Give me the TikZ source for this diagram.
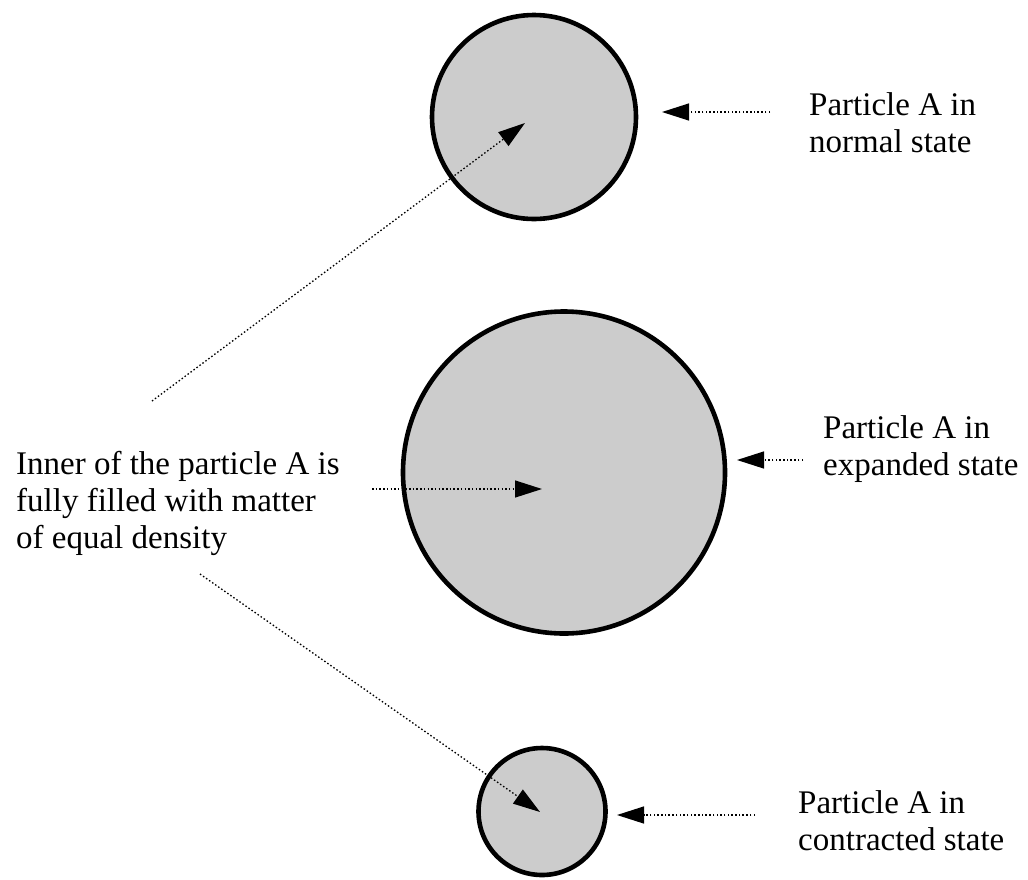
\documentclass[tikz,border=0pt]{standalone}
\usepackage{fontspec}
\setmainfont{Liberation Serif}
\usetikzlibrary{arrows.meta}
\definecolor{partgray}{HTML}{CCCCCC}
\begin{document}
\begin{tikzpicture}[x=1pt,y=-1pt,
  particle/.style={circle,draw=black,line width=4.6pt,fill=partgray,inner sep=0pt},
  lbl/.style={align=left,anchor=north west,inner sep=0pt,font=\fontsize{33}{37}\selectfont},
  pointer/.style={line width=1.3pt,dash pattern=on 1.5pt off 2.2pt,-{Triangle[length=27pt,width=17pt]}}]
\useasboundingbox (0,0) rectangle (1028,879);
% particles
\node[particle,minimum size=204pt] (normal) at (534,117) {};
\node[particle,minimum size=322pt] (expanded) at (564,472.5) {};
\node[particle,minimum size=127pt] (contracted) at (542,811.5) {};
% labels
\node[lbl] (lnormal) at (809,92.5) {Particle A in\\normal state};
\node[lbl] (lexp) at (823,415.5) {Particle A in\\expanded state};
\node[lbl] (lcon) at (798,790.5) {Particle A in\\contracted state};
\node[lbl] (linner) at (16,451.5) {Inner of the particle A is\\fully filled with matter\\of equal density};
% connector ends
\coordinate (nS) at (770,112); \coordinate (nT) at (662,112);
\coordinate (eS) at (803,460); \coordinate (eT) at (737,460);
\coordinate (cS) at (755,815); \coordinate (cT) at (617,815);
\coordinate (iA) at (152,401); \coordinate (iAT) at (525,123);
\coordinate (iB) at (372,489); \coordinate (iBT) at (542,489);
\coordinate (iC) at (200,574); \coordinate (iCT) at (540,812);
% connectors
\draw[pointer] (nS) -- (nT);
\draw[pointer] (eS) -- (eT);
\draw[pointer] (cS) -- (cT);
\draw[pointer] (iA) -- (iAT);
\draw[pointer] (iB) -- (iBT);
\draw[pointer] (iC) -- (iCT);
\end{tikzpicture}
\end{document}
